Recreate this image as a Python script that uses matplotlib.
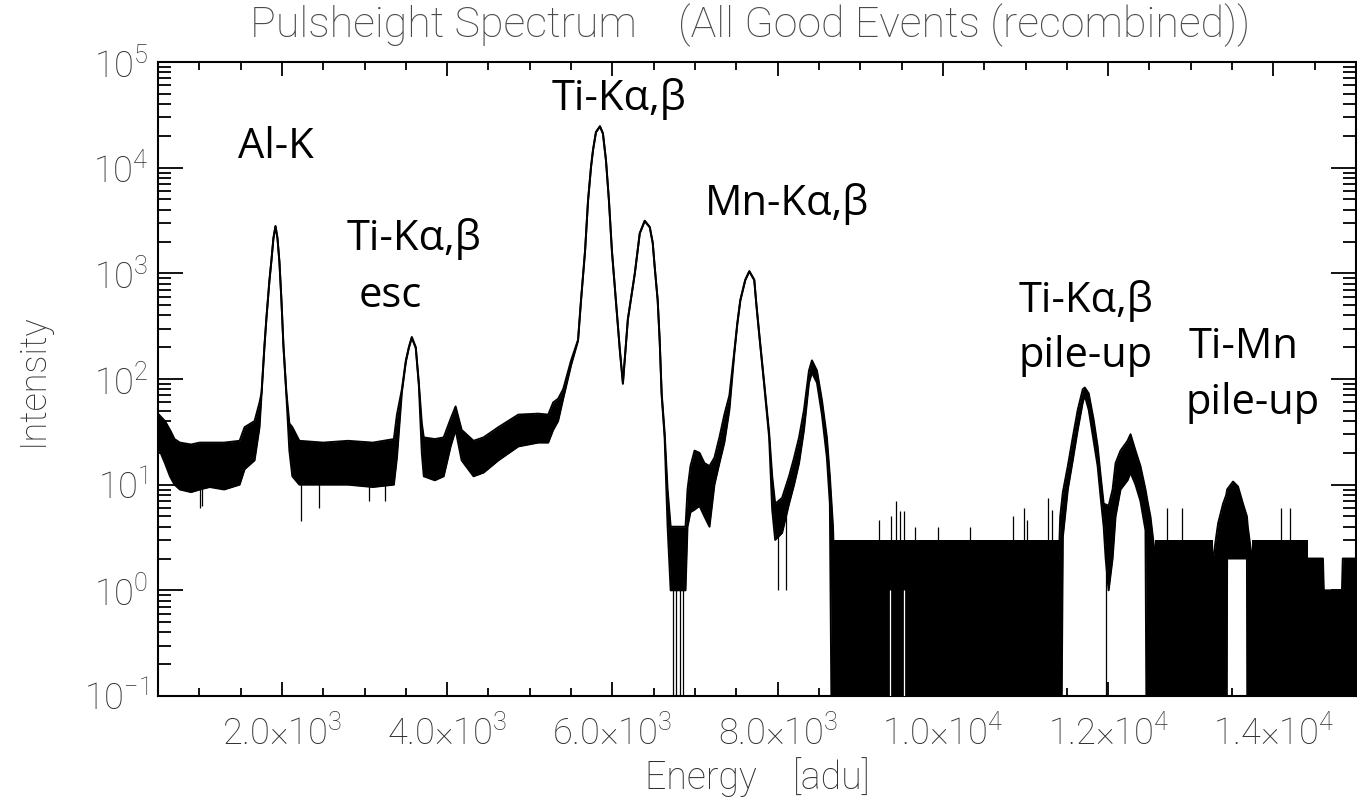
import numpy as np
import matplotlib
matplotlib.use("Agg")
import matplotlib.pyplot as plt
from matplotlib.ticker import FixedLocator, NullFormatter, LogLocator

# ---------------- data ----------------
energy = [500, 584, 645, 700, 765, 900, 1006, 1127, 1300, 1488, 1548, 1669, 1729, 1753,
          1789, 1813, 1849, 1873, 1897, 1922, 1946, 1970, 1994, 2018, 2054, 2090, 2126,
          2211, 2500, 2800, 3100, 3355, 3392, 3452, 3500, 3536, 3572, 3620, 3657, 3693,
          3717, 3850, 3958, 4042, 4102, 4175, 4319, 4440, 4620, 4861, 5102, 5223, 5283,
          5343, 5404, 5500, 5584, 5620, 5669, 5705, 5741, 5765, 5801, 5849, 5885, 5922,
          5958, 5994, 6042, 6090, 6127, 6187, 6271, 6331, 6391, 6452, 6488, 6512, 6548,
          6572, 6596, 6632, 6668, 6705, 6885, 6909, 6945, 6994, 7054, 7114, 7175, 7235,
          7295, 7355, 7416, 7476, 7512, 7548, 7608, 7657, 7717, 7741, 7777, 7837, 7897,
          7934, 7970, 8054, 8138, 8199, 8259, 8319, 8379, 8415, 8476, 8536, 8596, 8632,
          8670, 8681, 11404, 11420, 11452, 11512, 11572, 11632, 11693, 11717, 11765,
          11825, 11873, 11910, 11946, 11970, 12006, 12054, 12090, 12150, 12235, 12271,
          12331, 12391, 12452, 12476, 12512, 12572, 13271, 13331, 13391, 13430, 13440,
          13512, 13572, 13632, 13680, 13690, 13741, 14415, 14600, 14610, 14830, 14840,
          15000]
upper = [47, 40, 33, 27, 25, 24, 25, 25, 25, 26, 35, 40, 60, 74,
         210, 386, 865, 1337, 2160, 2805, 2160, 1280, 560, 210, 75, 38, 35,
         26, 25, 26, 25, 27, 46, 80, 150, 200, 250, 200, 92, 38,
         28, 27, 28, 42, 55, 33, 26, 28, 35, 46, 47, 46, 60,
         65, 80, 150, 235, 560, 1640, 4900, 10200, 14700, 21800, 24700, 21200, 11800,
         4900, 1640, 560, 190, 92, 370, 1000, 2400, 3150, 2750, 1950, 1150, 560,
         235, 74, 31, 9, 4, 4, 9, 15, 21, 20, 16, 15, 18,
         28, 46, 70, 185, 340, 560, 870, 1050, 870, 525, 270, 92, 31,
         12, 6.6, 7.5, 12, 18, 28, 51, 120, 150, 120, 63, 28, 12,
         4, 2, 2, 5, 8.5, 15, 28, 51, 80, 83, 73,
         41, 23, 12, 6.6, 6.5, 6.3, 9, 16, 21, 26, 30,
         21, 15, 9, 7, 5, 2, 2, 4.3, 6.6, 8, 9,
         10.7, 9.6, 6.6, 5, 4, 2, 2, 2, 1, 1, 2,
         2]
lower = [23, 16, 12, 10, 9, 8.5, 9, 9.5, 9, 10, 14, 17, 35, 70,
         205, 380, 855, 1320, 2140, 2780, 2140, 1265, 550, 205, 70, 21, 12,
         10, 10, 10, 9.5, 10, 18, 75, 145, 196, 245, 196, 88, 20,
         12, 11, 12, 23, 33, 17, 12, 13, 17, 23, 25, 25, 33,
         40, 65, 135, 230, 550, 1620, 4850, 10100, 14600, 21600, 24500, 21000, 11700,
         4850, 1620, 550, 185, 90, 365, 990, 2380, 3120, 2720, 1930, 1140, 550,
         230, 70, 28, 4, 1, 1, 4, 5.5, 5.8, 6.3, 5, 4, 10,
         16, 25, 51, 175, 330, 550, 860, 1040, 860, 515, 260, 88, 28,
         5.8, 3, 3.5, 6.6, 10, 16, 33, 92, 115, 92, 46, 18, 6.6,
         0, 0, 0, 0, 3.2, 9, 17, 33, 60, 70, 51,
         26, 15, 7.5, 4, 2, 1, 2, 5, 9, 11, 13,
         10, 7, 3.7, 0, 0, 0, 0, 0, 0, 0, 2,
         2, 2, 2, 2, 0, 0, 0, 0, 0, 0, 0,
         0]

# dense comb of 2..3 counts in the flat high-energy background
comb_start = [8681, 12572, 13741]
comb_end = [11404, 13271, 14415]
comb_low = 2
comb_high = 3

# single channels sticking up out of the background
spike_energy = [9223, 9367, 9427, 9476, 9524, 9668, 9946, 10331, 10849, 10982, 11018,
                11271, 11319, 12717, 12897, 14090, 14199]
spike_top = [4.6, 5, 7, 5.6, 5.6, 4, 4, 4, 5, 6, 4.6, 7.5, 5.8, 6, 6, 6, 6]

# single channels dropping below the noise band
dip_energy = [1006, 1030, 2235, 2452, 3054, 3247, 6729, 6765, 6813, 6849, 8006, 8102, 11970]
dip_bottom = [6, 6.3, 4.5, 6, 7, 7, 0, 0, 0, 0, 1, 1, 0]

# non-empty channels inside the zero region
gap_energy = [9355, 9524]

x_ticks = [2000, 4000, 6000, 8000, 10000, 12000, 14000]
x_tick_labels = ["2.0×10$^{3}$", "4.0×10$^{3}$", "6.0×10$^{3}$", "8.0×10$^{3}$",
                 "1.0×10$^{4}$", "1.2×10$^{4}$", "1.4×10$^{4}$"]
y_ticks = [1e-1, 1e0, 1e1, 1e2, 1e3, 1e4, 1e5]
y_tick_labels = ["10$^{-1}$", "10$^{0}$", "10$^{1}$", "10$^{2}$", "10$^{3}$",
                 "10$^{4}$", "10$^{5}$"]

peak_labels = ["Al-K", "Ti-Kα,β", "esc", "Ti-Kα,β", "Mn-Kα,β",
               "Ti-Kα,β", "pile-up", "Ti-Mn", "pile-up"]
label_energy = [1464, 2789, 2934, 5259, 7114, 10921, 10921, 12970, 12934]
label_height = [12300, 1660, 480, 35300, 3560, 430, 131, 158, 47]

title = "Pulsheight Spectrum    (All Good Events (recombined))"
x_title = "Energy    [adu]"
y_title = "Intensity"

# ---------------- styling ----------------
plt.rcParams["font.family"] = ["Roboto", "DejaVu Sans"]
plt.rcParams["font.weight"] = "light"
plt.rcParams["mathtext.fontset"] = "custom"
plt.rcParams["mathtext.rm"] = "Roboto:light"
plt.rcParams["mathtext.it"] = "Roboto:light"
plt.rcParams["mathtext.default"] = "regular"

W, H = 1357, 802
fig = plt.figure(figsize=(W / 100, H / 100), dpi=100)
x0, x1, y0, y1 = 158, 1356, 62, 696
ax = fig.add_axes([x0 / W, 1 - y1 / H, (x1 - x0) / W, (y1 - y0) / H])

E = np.array(energy, float)
U = np.array(upper, float)
L = np.array(lower, float)
floor = 1e-3
Lf = np.where(L > 0, L, floor)

ax.fill_between(E, Lf, U, color="black", lw=0, zorder=2)
ax.plot(E, U, color="black", lw=1.4, zorder=3)
ax.plot(E, Lf, color="black", lw=1.4, zorder=3)

for s, e in zip(comb_start, comb_end):
    ax.fill_between([s, e], [floor, floor], [comb_high, comb_high],
                    color="black", lw=0, zorder=2)

ax.vlines(spike_energy, comb_low, spike_top, color="black", lw=0.9, zorder=3)
dip_top = np.interp(dip_energy, E, L) * 1.2 + 0.5
ax.vlines(dip_energy, np.where(np.array(dip_bottom) > 0, dip_bottom, floor), dip_top,
          color="black", lw=0.9, zorder=3)
ax.vlines(gap_energy, floor, 1, color="white", lw=0.9, zorder=4)

ax.set_yscale("log")
ax.set_xlim(500, 15000)
ax.set_ylim(0.1, 1e5)

tick_color = "#303030"
ax.yaxis.set_major_locator(FixedLocator(y_ticks))
ax.set_yticklabels(y_tick_labels)
ax.yaxis.set_minor_locator(LogLocator(base=10, subs=np.arange(2, 10), numticks=20))
ax.yaxis.set_minor_formatter(NullFormatter())
ax.xaxis.set_major_locator(FixedLocator(x_ticks))
ax.set_xticklabels(x_tick_labels)
ax.xaxis.set_minor_locator(FixedLocator(np.arange(500, 15001, 500)))

ax.tick_params(axis="both", which="both", direction="in", top=True, right=True,
               color="black", labelcolor=tick_color, width=1.3)
ax.tick_params(axis="y", which="major", length=18, labelsize=26, pad=7)
ax.tick_params(axis="y", which="minor", length=9.5)
ax.tick_params(axis="x", which="major", length=10, labelsize=26, pad=13)
ax.tick_params(axis="x", which="minor", length=6)
for sp in ax.spines.values():
    sp.set_linewidth(1.5)
    sp.set_color("black")

fig.text((x0 + x1) / 2 / W, 1 - 777 / H, x_title, ha="center", va="center",
         fontsize=27, color=tick_color)
fig.text(33 / W, 1 - 380 / H, y_title, ha="center", va="center", rotation=90,
         fontsize=26, color=tick_color)
fig.text(750 / W, 1 - 37 / H, title, ha="center", va="baseline",
         fontsize=31, color="#4a4a4a")

for txt, ex, hy in zip(peak_labels, label_energy, label_height):
    ax.text(ex, hy, txt, ha="left", va="baseline", fontsize=30,
            family=["Open Sans", "DejaVu Sans"], fontweight="normal",
            color="black", zorder=5)

fig.savefig("out.png", dpi=100)
